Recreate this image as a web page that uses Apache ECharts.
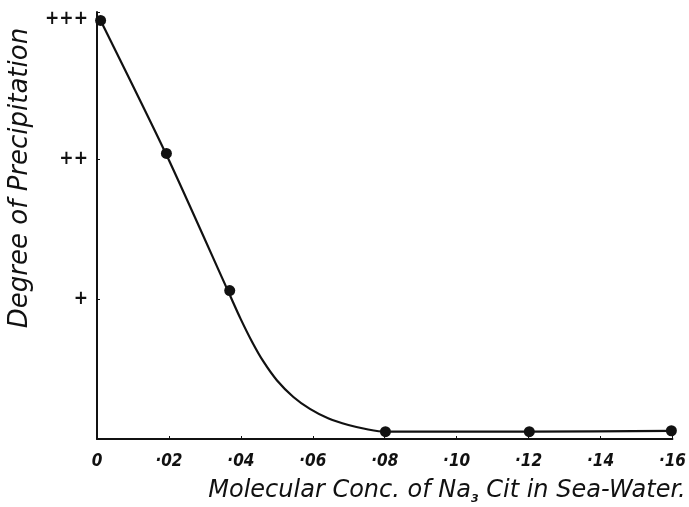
<!DOCTYPE html>
<html>
<head>
<meta charset="utf-8">
<script src="https://cdn.jsdelivr.net/npm/echarts@6/dist/echarts.min.js"></script>
<style>html,body{margin:0;padding:0;background:#fff}#c{width:689px;height:507px}</style>
</head>
<body>
<div id="c"></div>
<script>
// Observed points (concentration, degree of precipitation; +++ = 3)
const obsX = [0.001, 0.0193, 0.0369, 0.0802, 0.1202, 0.1597];
const obsY = [2.99, 2.04, 1.06, 0.052, 0.052, 0.059];
// Hand-drawn curve
const curveX = [0.001, 0.0193, 0.0369, 0.0399, 0.0431, 0.0463, 0.0500, 0.0546, 0.0592, 0.0644, 0.0699, 0.0754, 0.0801, 0.1202, 0.1597];
const curveY = [2.99, 2.03, 1.03, 0.86, 0.695, 0.552, 0.42, 0.30, 0.215, 0.146, 0.100, 0.068, 0.052, 0.052, 0.058];
// Tick labels
const yTickLabels = {1: '+', 2: '++', 3: '+++'};
const xTitleParts = ['Molecular Conc. of Na', '3', ' Cit in Sea-Water.'];
const yTitle = 'Degree of Precipitation';

const chart = echarts.init(document.getElementById('c'));
const ink = '#111';
const fam = '"DejaVu Sans Condensed", "DejaVu Sans", sans-serif';
const fam2 = '"DejaVu Sans", sans-serif';
chart.setOption({
  backgroundColor: '#fff',
  animation: false,
  grid: {left: 97, right: 13, top: 12, bottom: 68},
  xAxis: {
    type: 'value', min: 0, max: 0.16, interval: 0.02,
    axisLine: {lineStyle: {color: ink, width: 2}},
    axisTick: {inside: true, length: 3, lineStyle: {color: ink}},
    splitLine: {show: false},
    axisLabel: {
      color: ink, fontFamily: fam, fontStyle: 'italic', fontWeight: 'bold', fontSize: 17, margin: 14,
      formatter: v => {
        if (Math.abs(v) < 1e-9) return '0';
        return '·' + String(Math.round(v * 100)).padStart(2, '0');
      }
    }
  },
  yAxis: {
    type: 'value', min: 0, max: 3.05, interval: 1,
    axisLine: {lineStyle: {color: ink, width: 2}},
    axisTick: {inside: true, length: 3, lineStyle: {color: ink}},
    splitLine: {show: false},
    axisLabel: {
      color: ink, fontFamily: fam, fontWeight: 'bold', fontSize: 19, margin: 9,
      formatter: v => yTickLabels[Math.round(v * 100) / 100] || ''
    }
  },
  graphic: [
    {
      type: 'text', x: 20, y: 178, rotation: Math.PI / 2,
      style: {
        text: yTitle, fill: ink, font: 'italic 26px ' + fam2,
        textAlign: 'center', textVerticalAlign: 'middle'
      }
    },
    {
      type: 'text', x: 447, y: 491,
      style: {
        text: '{t|' + xTitleParts[0] + '}{s|' + xTitleParts[1] + '}{t|' + xTitleParts[2] + '}',
        textAlign: 'center', textVerticalAlign: 'middle',
        rich: {
          t: {fill: ink, fontFamily: fam2, fontStyle: 'italic', fontSize: 24},
          s: {fill: ink, fontFamily: fam2, fontStyle: 'italic', fontWeight: 'bold', fontSize: 11, padding: [16, 0, 0, 0]}
        }
      }
    }
  ],
  series: [
    {
      type: 'line', data: curveX.map((x, i) => [x, curveY[i]]),
      smooth: 0.25, showSymbol: false, clip: false,
      lineStyle: {color: ink, width: 2.2}
    },
    {
      type: 'scatter', data: obsX.map((x, i) => [x, obsY[i]]),
      symbolSize: 11, clip: false, itemStyle: {color: ink, opacity: 1}
    }
  ]
});
</script>
</body>
</html>
